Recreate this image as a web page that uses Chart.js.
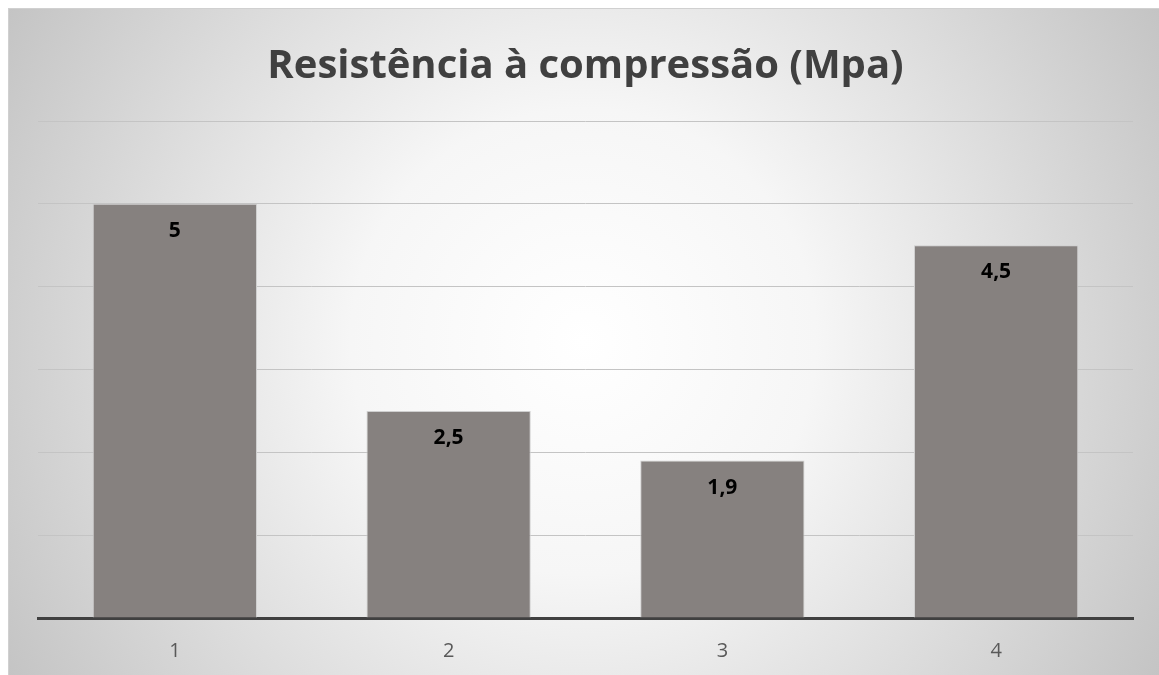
<!DOCTYPE html>
<html lang="pt">
<head>
<meta charset="utf-8">
<title>Resistência à compressão (Mpa)</title>
<script src="https://cdn.jsdelivr.net/npm/chart.js@4"></script>
<style>
  html, body { margin: 0; padding: 0; background: #ffffff; }
  #wrap { position: absolute; left: 0; top: 0; width: 1159px; height: 675px; }
</style>
</head>
<body>
<div id="wrap"><canvas id="chart" width="1159" height="675"></canvas></div>
<script>
// Amostras e valores de resistência (MPa)
const categories = ['1', '2', '3', '4'];
const resistencia = [5, 2.5, 1.9, 4.5];
const yTicks = [0, 1, 2, 3, 4, 5, 6];

const titleText = 'Resistência à compressão (Mpa)';
const fmt = v => v.toLocaleString('pt-BR');

// Fundo com gradiente radial e moldura do gráfico
const backgroundPlugin = {
  id: 'frameBackground',
  beforeDraw(chart) {
    const ctx = chart.ctx;
    const x0 = 8, y0 = 8, w = chart.width - 8, h = chart.height - 8;
    ctx.save();
    const cx = x0 + w / 2, cy = y0 + h / 2;
    const g = ctx.createRadialGradient(cx, cy, 0, cx, cy, Math.hypot(w / 2, h / 2));
    g.addColorStop(0, '#ffffff');
    g.addColorStop(0.35, '#f6f6f6');
    g.addColorStop(1, '#c4c4c4');
    ctx.fillStyle = g;
    ctx.fillRect(x0, y0, w, h);
    ctx.strokeStyle = '#d0d0d0';
    ctx.lineWidth = 1;
    ctx.strokeRect(x0 + 0.5, y0 + 0.5, w, h);
    ctx.restore();
  }
};

// Rótulos de valor dentro do topo de cada barra
const valueLabels = {
  id: 'valueLabels',
  afterDatasetsDraw(chart) {
    const ctx = chart.ctx;
    const meta = chart.getDatasetMeta(0);
    ctx.save();
    ctx.font = 'bold 21px "Open Sans", sans-serif';
    ctx.fillStyle = '#000000';
    ctx.textAlign = 'center';
    ctx.textBaseline = 'middle';
    meta.data.forEach((bar, i) => {
      ctx.fillText(fmt(resistencia[i]), bar.x, bar.y + 27);
    });
    ctx.restore();
  }
};

new Chart(document.getElementById('chart'), {
  type: 'bar',
  data: {
    labels: categories,
    datasets: [{
      data: resistencia,
      backgroundColor: '#86817f',
      borderColor: '#cfcfcf',
      borderWidth: 1,
      categoryPercentage: 1,
      barPercentage: 0.6
    }]
  },
  options: {
    responsive: false,
    animation: false,
    layout: { padding: { left: 38, right: 26, top: 0, bottom: 13 } },
    plugins: {
      legend: { display: false },
      tooltip: { enabled: false },
      title: {
        display: true,
        text: titleText,
        color: '#404040',
        font: { family: '"Open Sans", sans-serif', size: 40, weight: 'bold', lineHeight: 1.2 },
        padding: { top: 43, bottom: 30 }
      }
    },
    scales: {
      x: {
        grid: { display: false, drawTicks: false },
        border: { display: true, color: '#404040', width: 3 },
        ticks: {
          color: '#595959',
          padding: 21,
          font: { family: '"Open Sans", sans-serif', size: 20 }
        },
        afterFit(axis) { axis.height = 44; }
      },
      y: {
        min: yTicks[0],
        max: yTicks[yTicks.length - 1],
        afterBuildTicks(axis) { axis.ticks = yTicks.map(v => ({ value: v })); },
        ticks: { display: false },
        grid: { color: '#c4c4c4', lineWidth: 1, drawTicks: false },
        border: { display: false }
      }
    }
  },
  plugins: [backgroundPlugin, valueLabels]
});
</script>
</body>
</html>
